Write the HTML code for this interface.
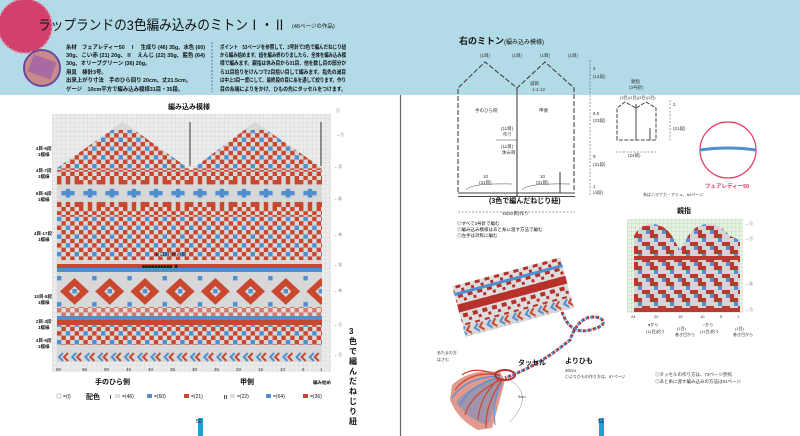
<!DOCTYPE html>
<html><head><meta charset="utf-8"><style>
html,body{margin:0;padding:0;background:#fff;}
svg{display:block;font-family:"Liberation Sans","Noto Sans CJK JP",sans-serif;}
</style></head><body>
<svg width="800" height="436" viewBox="0 0 800 436" xmlns="http://www.w3.org/2000/svg">
<defs>
<pattern id="grid" width="4.4" height="4.4" patternUnits="userSpaceOnUse">
<rect width="4.4" height="4.4" fill="#ececec"/><path d="M4.4 0V4.4H0" fill="none" stroke="#c8c8c8" stroke-width="0.5"/></pattern>
<pattern id="ggrid" width="4" height="4" patternUnits="userSpaceOnUse">
<rect width="4" height="4" fill="#e6f2e2"/><path d="M4 0V4H0" fill="none" stroke="#9fd19a" stroke-width="0.5"/></pattern>
<pattern id="pA" width="17.6" height="17.6" patternUnits="userSpaceOnUse" x="57" y="120">
<rect width="17.6" height="17.6" fill="#d8d8d8"/>
<rect x="0" y="0" width="4.4" height="4.4" fill="#c9472f"/><rect x="8.8" y="0" width="4.4" height="4.4" fill="#4f8fd0"/>
<rect x="4.4" y="4.4" width="4.4" height="4.4" fill="#c9472f"/><rect x="13.2" y="4.4" width="4.4" height="4.4" fill="#c9472f"/>
<rect x="0" y="8.8" width="4.4" height="4.4" fill="#4f8fd0"/><rect x="8.8" y="8.8" width="4.4" height="4.4" fill="#c9472f"/>
<rect x="4.4" y="13.2" width="4.4" height="4.4" fill="#c9472f"/><rect x="13.2" y="13.2" width="4.4" height="4.4" fill="#c9472f"/>
</pattern>
<pattern id="pD" width="22" height="26.4" patternUnits="userSpaceOnUse" x="57" y="180">
<rect width="22" height="26.4" fill="#d8d8d8"/>
<rect x="8.8" y="8.8" width="4.4" height="8.8" fill="#4f8fd0"/><rect x="4.4" y="11" width="13.2" height="4.4" fill="#4f8fd0"/>
<rect x="0" y="0" width="4.4" height="4.4" fill="#c9472f"/><rect x="17.6" y="22" width="4.4" height="4.4" fill="#c9472f"/>
<rect x="0" y="22" width="4.4" height="4.4" fill="#c9472f"/><rect x="17.6" y="0" width="4.4" height="4.4" fill="#c9472f"/>
<rect x="8.8" y="0" width="4.4" height="4.4" fill="#c9472f"/><rect x="8.8" y="22" width="4.4" height="4.4" fill="#c9472f"/>
</pattern>
<pattern id="pC" width="8.8" height="8.8" patternUnits="userSpaceOnUse" x="57" y="0">
<rect width="8.8" height="8.8" fill="#d8d8d8"/><rect width="4.4" height="4.4" fill="#c9472f"/><rect x="4.4" y="4.4" width="4.4" height="4.4" fill="#c9472f"/></pattern>
<pattern id="pR" width="35.2" height="30.8" patternUnits="userSpaceOnUse" x="57" y="276">
<rect width="35.2" height="30.8" fill="#d8d8d8"/>
<path d="M17.6 2 L32 15.4 L17.6 28.8 L3 15.4Z" fill="#c9472f"/>
<path d="M17.6 10 L23 15.4 L17.6 21 L12 15.4Z" fill="#d8d8d8"/>
<rect x="15.4" y="13" width="4.4" height="4.4" fill="#4f8fd0"/><rect x="0" y="0" width="4.4" height="4.4" fill="#4f8fd0"/><rect x="0" y="26" width="4.4" height="4.4" fill="#4f8fd0"/>
</pattern>
<pattern id="pV" width="13.2" height="10" patternUnits="userSpaceOnUse" x="57" y="352">
<rect width="13.2" height="10" fill="#d8d8d8"/><path d="M6 1 L2 5 L6 9" stroke="#4f8fd0" stroke-width="2" fill="none"/><path d="M11 1 L7 5 L11 9" stroke="#c9472f" stroke-width="2" fill="none"/></pattern>
<pattern id="pT" width="16" height="16" patternUnits="userSpaceOnUse" x="634" y="250">
<rect width="16" height="16" fill="#d4d4d4"/><rect width="8" height="4" fill="#b83a2e"/><rect x="8" y="8" width="8" height="4" fill="#b83a2e"/><rect x="4" y="4" width="4" height="4" fill="#4f8fd0"/><rect x="12" y="12" width="4" height="4" fill="#4f8fd0"/><rect x="0" y="12" width="4" height="4" fill="#b83a2e"/></pattern>
<pattern id="pB" width="10" height="10" patternUnits="userSpaceOnUse">
<rect width="10" height="10" fill="#ddd"/><rect width="5" height="4" fill="#b8302a"/><rect x="5" y="5" width="3" height="3" fill="#b8302a"/></pattern>
</defs>

<!-- header -->
<rect x="0" y="0" width="800" height="95" fill="#b2dbe7"/>
<circle cx="25" cy="26" r="27" fill="#d2406e"/>
<circle cx="25" cy="26" r="27" fill="none" stroke="#e58aa5" stroke-width="2" stroke-dasharray="2 3"/>
<circle cx="42" cy="68" r="18" fill="#c98a8a" stroke="#6a4aa0" stroke-width="2"/>
<rect x="30" y="58" width="24" height="18" fill="#a86aa0" transform="rotate(20 42 67)"/>
<text x="38" y="30" font-size="14" fill="#111" textLength="248" lengthAdjust="spacingAndGlyphs">ラップランドの3色編み込みのミトンⅠ・Ⅱ</text>
<text x="292" y="28" font-size="5.5" fill="#111">(46ページの作品)</text>
<g font-size="5.4" fill="#111" font-weight="bold">
<text x="66" y="49" textLength="139" lengthAdjust="spacingAndGlyphs">糸材　フェアレディー50　Ⅰ　生成り (46) 35g、水色 (60)</text>
<text x="66" y="57" textLength="139" lengthAdjust="spacingAndGlyphs">30g、こい赤 (21) 20g、Ⅱ　えんじ (22) 35g、藍色 (64)</text>
<text x="66" y="65">30g、オリーブグリーン (36) 20g。</text>
<text x="66" y="74">用具　棒針3号。</text>
<text x="66" y="82">出来上がり寸法　手のひら回り 20cm、丈21.5cm。</text>
<text x="66" y="91">ゲージ　10cm平方で編み込み模様31目・35段。</text>
<text x="220" y="49" textLength="126" lengthAdjust="spacingAndGlyphs">ポイント　53ページを参照して、3号針で3色で編んだねじり紐</text>
<text x="220" y="57" textLength="126" lengthAdjust="spacingAndGlyphs">から編み始めます。紐を編み終わりましたら、全体を編み込み模</text>
<text x="220" y="65" textLength="126" lengthAdjust="spacingAndGlyphs">様で編みます。親指は休み目から01目、他を数し目の部分か</text>
<text x="220" y="74" textLength="126" lengthAdjust="spacingAndGlyphs">ら11目拾りをけんつで2目拾い目して編みます。指先の減目</text>
<text x="220" y="82" textLength="126" lengthAdjust="spacingAndGlyphs">は中上3目一度にして、最終段の目に糸を通して絞ります。作り</text>
<text x="220" y="91" textLength="126" lengthAdjust="spacingAndGlyphs">目の糸端によりをかけ、ひもの先にタッセルをつけます。</text>
</g>
<line x1="212" y1="42" x2="212" y2="92" stroke="#333" stroke-width="0.6" stroke-dasharray="2 1.5"/>

<!-- left chart -->
<text x="168" y="109" font-size="7" font-weight="bold" fill="#111">編み込み模様</text>
<rect x="52" y="114" width="279" height="258" fill="url(#grid)"/>
<path d="M57 170 L57 168 L123 122 L188 168 L191 170 L255 122 L322 168 L322 170Z" fill="url(#pA)"/>
<path d="M123 122 L135 130 L111 130Z" fill="#d8d8d8"/>
<path d="M255 122 L267 130 L243 130Z" fill="#d8d8d8"/>
<rect x="57" y="170" width="265" height="10" fill="url(#pC)"/>
<rect x="57" y="180" width="265" height="27" fill="url(#pD)"/>
<rect x="57" y="207" width="265" height="8" fill="url(#pC)"/>
<rect x="57" y="215" width="265" height="45" fill="url(#pA)"/>
<rect x="57" y="260" width="265" height="4" fill="#d8d8d8"/>
<rect x="57" y="264" width="265" height="4" fill="#c9472f"/>
<rect x="57" y="268" width="265" height="4" fill="#4f8fd0"/>
<rect x="57" y="272" width="265" height="4" fill="#d8d8d8"/>
<rect x="57" y="276" width="265" height="31" fill="url(#pR)"/>
<rect x="57" y="307" width="265" height="9" fill="url(#pC)" opacity="0.7"/>
<rect x="57" y="316" width="265" height="4" fill="#4f8fd0"/>
<rect x="57" y="320" width="265" height="5" fill="#c9472f"/>
<rect x="57" y="325" width="265" height="20" fill="url(#pA)"/>
<rect x="57" y="345" width="265" height="7" fill="#d8d8d8"/>
<rect x="57" y="352" width="265" height="10" fill="url(#pV)"/>
<rect x="189" y="122" width="2" height="44" fill="#333" opacity="0.5"/>
<rect x="320" y="122" width="2" height="44" fill="#333" opacity="0.5"/>
<text x="155" y="256" font-size="5" fill="#111">●(11目)休み目</text>
<text x="142" y="268" font-size="5" fill="#111">■■■■■■■■■■ ★</text>
<g font-size="4.5" fill="#111" font-weight="bold">
<text x="36" y="150">4目-5段</text><text x="38" y="156">1模様</text>
<text x="36" y="172">4目-7段</text><text x="38" y="178">1模様</text>
<text x="36" y="195">6目-6段</text><text x="38" y="201">1模様</text>
<text x="34" y="235">4目-17段</text><text x="38" y="241">1模様</text>
<text x="34" y="298">10目-8段</text><text x="38" y="304">1模様</text>
<text x="36" y="323">2目-3段</text><text x="38" y="329">1模様</text>
<text x="36" y="342">4目-5段</text><text x="38" y="348">1模様</text>
</g>
<g font-size="4.5" fill="#333">
<text x="56" y="371">60</text><text x="82" y="371">55</text><text x="104" y="371">50</text><text x="126" y="371">45</text><text x="148" y="371">40</text><text x="170" y="371">35</text><text x="192" y="371">30</text><text x="214" y="371">25</text><text x="236" y="371">20</text><text x="258" y="371">15</text><text x="280" y="371">10</text><text x="302" y="371">5</text><text x="320" y="371">1</text>
</g>
<text x="95" y="384" font-size="7" font-weight="bold" fill="#111">手のひら側</text>
<text x="240" y="384" font-size="7" font-weight="bold" fill="#111">甲側</text>
<text x="313" y="384" font-size="4.5" font-weight="bold" fill="#111">編み始め</text>
<g font-size="5" fill="#111">
<rect x="57" y="394" width="4" height="4" fill="#fff" stroke="#999" stroke-width="0.5"/><text x="63" y="398">=(I)</text>
<text x="86" y="399" font-size="7" font-weight="bold">配色</text>
<text x="108" y="399" font-weight="bold">Ⅰ</text><rect x="115" y="394" width="5" height="4" fill="#ddd"/><text x="122" y="398">=(46)</text>
<rect x="147" y="394" width="5" height="4" fill="#4f8fd0"/><text x="154" y="398">=(60)</text>
<rect x="184" y="394" width="5" height="4" fill="#c9472f"/><text x="191" y="398">=(21)</text>
<text x="223" y="399" font-weight="bold">Ⅱ</text><rect x="230" y="394" width="5" height="4" fill="#ddd"/><text x="237" y="398">=(22)</text>
<rect x="266" y="394" width="5" height="4" fill="#4f8fd0"/><text x="273" y="398">=(64)</text>
<rect x="303" y="394" width="5" height="4" fill="#c9472f"/><text x="310" y="398">=(36)</text>
</g>
<g font-size="8" font-weight="bold" fill="#111">
<text x="349" y="334">3</text><text x="349" y="344">色</text><text x="349" y="354">で</text><text x="349" y="364">編</text><text x="349" y="374">ん</text><text x="349" y="384">だ</text><text x="349" y="394">ね</text><text x="349" y="404">じ</text><text x="349" y="414">り</text><text x="349" y="424">紐</text>
</g>
<g font-size="4" fill="#333"><text x="336" y="112">①</text><text x="336" y="136">←①</text><text x="334" y="168">←②</text><text x="334" y="200">←⑤</text><text x="334" y="236">←④</text><text x="334" y="266">←③</text><text x="334" y="292">←④</text><text x="334" y="326">←①</text><text x="334" y="356">←①</text></g>
<rect x="198" y="418" width="5" height="18" fill="#1aa3d6"/><text x="196" y="423" font-size="5" fill="#111">50</text>

<!-- gutter -->
<line x1="400.5" y1="95" x2="400.5" y2="436" stroke="#666" stroke-width="1.2"/>

<!-- right page -->
<text x="459" y="44" font-size="9" font-weight="bold" fill="#111">右のミトン</text>
<text x="504" y="44" font-size="6" fill="#111">(編み込み模様)</text>
<g stroke="#444" stroke-width="1.1" fill="none">
<path d="M458 192 V88 L485 62 L517 88 L545 62 L574 88 V192" stroke-dasharray="5 2"/>
<line x1="517" y1="88" x2="517" y2="196"/>
<line x1="458" y1="193" x2="575" y2="193"/><line x1="458" y1="196.5" x2="575" y2="196.5"/>
<line x1="560" y1="172" x2="560" y2="193"/>
<line x1="496" y1="140" x2="517" y2="140" stroke-width="0.6"/>
<path d="M466 190 Q470 183 512 184" stroke-width="0.5"/><path d="M522 190 Q526 183 570 184" stroke-width="0.5"/>
<line x1="458" y1="212" x2="575" y2="212" stroke-width="0.5" stroke-dasharray="2 1.5"/>
<line x1="590" y1="60" x2="590" y2="196" stroke-width="0.5" stroke-dasharray="2 1.5"/>
</g>
<g font-size="4.5" fill="#333">
<text x="480" y="57">(1目)</text><text x="512" y="57">(1目)</text><text x="540" y="57">(1目)</text><text x="568" y="57">(1目)</text>
<text x="530" y="85">減目</text><text x="532" y="91">1-1-12</text>
<text x="475" y="112">手のひら側</text><text x="539" y="112">甲側</text>
<text x="501" y="130">(11目)</text><text x="503" y="136">作り</text><text x="501" y="148">(11目)</text><text x="502" y="154">休み目</text>
<text x="483" y="178">10</text><text x="479" y="184">(31目)</text><text x="540" y="178">10</text><text x="536" y="184">(31目)</text>
<text x="502" y="215">16(62目)作り</text>
<text x="593" y="70">4</text><text x="593" y="78">(14段)</text><text x="593" y="115">6.5</text><text x="593" y="122">(23段)</text><text x="593" y="158">9</text><text x="593" y="166">(31段)</text><text x="593" y="188">1</text><text x="593" y="194">(4段)</text>
</g>
<text x="489" y="203" font-size="7" font-weight="bold" fill="#111">(3色で編んだねじり紐)</text>
<g font-size="4.5" fill="#111"><text x="457" y="225">◎すべて3号針で編む</text><text x="457" y="231">◎編み込み模様はあと糸に渡す方法で編む</text><text x="457" y="237">◎左手は対称に編む</text></g>

<!-- small thumb diagram -->
<text x="631" y="83" font-size="4.5" fill="#333">親指</text><text x="629" y="89" font-size="4.5" fill="#333">(3号針)</text>
<g stroke="#444" stroke-width="1" fill="none">
<path d="M617 140 V108 L625 102 L636 108 L646 102 L656 108 V140 Z" stroke-dasharray="4 1.5"/>
<line x1="636" y1="104" x2="636" y2="140"/><line x1="650" y1="128" x2="650" y2="140"/>
<line x1="616" y1="152" x2="658" y2="152" stroke-width="0.5" stroke-dasharray="2 1.5"/>
<line x1="670" y1="100" x2="670" y2="142" stroke-width="0.5" stroke-dasharray="2 1.5"/>
</g>
<text x="620" y="99" font-size="4" fill="#333">(3目)(1目)(3目)(1目)</text>
<text x="628" y="157" font-size="4.5" fill="#333">(24目)</text><text x="673" y="106" font-size="4.5" fill="#333">2</text><text x="673" y="130" font-size="4.5" fill="#333">(21段)</text>

<!-- yarn circle -->
<circle cx="728" cy="150" r="28" fill="#fff" stroke="#e2355f" stroke-width="1.2"/>
<path d="M700 150 Q728 146 756 150" stroke="#4f8fd0" stroke-width="3" fill="none"/>
<text x="705" y="188" font-size="5.5" font-weight="bold" fill="#e2355f">フェアレディー50</text>
<text x="643" y="196" font-size="4" fill="#333">糸はハマナカ・アミュ、64ページ</text>

<!-- thumb chart -->
<text x="677" y="213" font-size="7" font-weight="bold" fill="#111">親指</text>
<rect x="627" y="219" width="116" height="94" fill="url(#ggrid)"/>
<path d="M634 250 V236 Q640 224 652 224 Q664 224 672 236 L680 250 L688 236 Q696 224 708 224 Q720 224 730 236 L740 240 V250Z" fill="url(#pT)"/>
<rect x="634" y="250" width="106" height="60" fill="url(#pT)"/>
<rect x="634" y="256" width="106" height="4" fill="#b83a2e"/>
<rect x="634" y="308" width="106" height="4" fill="#b83a2e"/>
<g font-size="4" fill="#333"><text x="631" y="318">24</text><text x="654" y="318">20</text><text x="678" y="318">15</text><text x="700" y="318">10</text><text x="720" y="318">5</text><text x="737" y="318">1</text>
<text x="648" y="326">●から</text><text x="646" y="333">(11目)拾う</text><text x="677" y="330">(1目)</text><text x="675" y="336">巻き目から</text>
<text x="703" y="326">○から</text><text x="700" y="333">(11目)拾う</text><text x="735" y="330">(1目)</text><text x="733" y="336">巻き目から</text>
<text x="745" y="225">←①</text><text x="745" y="240">←①</text><text x="745" y="285">←⑤</text><text x="745" y="311">←①</text></g>

<!-- band -->
<g transform="rotate(-15 513 297)">
<rect x="457" y="271" width="112" height="52" fill="url(#pB)"/>
<rect x="457" y="278" width="112" height="3" fill="#4f8fd0"/>
<rect x="457" y="290" width="112" height="8" fill="#b8302a"/>
<rect x="457" y="312" width="112" height="11" fill="url(#pV)"/>
</g>
<path d="M562 312 Q570 335 590 330 Q610 325 600 318 Q580 312 570 340 Q540 365 505 378" stroke="#b8302a" stroke-width="3" fill="none" stroke-dasharray="3 2"/>
<path d="M562 312 Q570 335 590 330 Q610 325 600 318 Q580 312 570 340 Q540 365 505 378" stroke="#4f8fd0" stroke-width="3" fill="none" stroke-dasharray="2 3" stroke-dashoffset="3"/>
<!-- tassel -->
<path d="M500 372 Q470 368 452 385 L450 400 Q458 420 478 430 L492 428 Q500 400 505 380Z" fill="#c9472f" opacity="0.55"/>
<path d="M498 378 Q470 385 456 402 Q468 420 488 425 Q497 400 503 382Z" fill="#4f8fd0" opacity="0.45"/>
<g stroke-width="1.2" fill="none">
<path d="M500 375 Q470 370 455 390" stroke="#c9472f"/><path d="M500 377 Q470 385 460 405" stroke="#4f8fd0"/>
<path d="M500 378 Q480 395 478 420" stroke="#c9472f"/><path d="M502 378 Q492 400 495 425" stroke="#7a8fd0"/>
<path d="M498 376 Q465 378 452 398" stroke="#4f8fd0"/><path d="M500 380 Q470 395 465 415" stroke="#c9472f"/>
<path d="M500 376 Q475 365 462 375" stroke="#c9472f"/><path d="M502 380 Q485 405 486 428" stroke="#c9472f"/>
</g>
<ellipse cx="505" cy="375" rx="10" ry="5" fill="none" stroke="#b8302a" stroke-width="2"/>
<path d="M510 380 Q535 395 510 422" stroke="#888" stroke-width="0.5" fill="none"/>
<text x="518" y="398" font-size="4" fill="#333">5cm</text>
<text x="518" y="365" font-size="7" font-weight="bold" fill="#111">タッセル</text>
<text x="565" y="363" font-size="7" font-weight="bold" fill="#111">よりひも</text>
<text x="565" y="372" font-size="4.5" fill="#333">20cm</text>
<text x="565" y="378" font-size="4" fill="#333">◎よりひもの作り方は、87ページ</text>
<text x="437" y="354" font-size="4" fill="#333">あたまの方</text><text x="437" y="361" font-size="4" fill="#333">はさむ</text>
<text x="655" y="376" font-size="4.5" fill="#333">◎タッセルの作り方は、73ページ参照</text>
<text x="655" y="383" font-size="4.5" fill="#333">◎あと糸に渡す編み込みの方法は81ページ</text>
<rect x="599" y="418" width="5" height="18" fill="#1aa3d6"/><text x="598" y="423" font-size="5" fill="#111">51</text>
</svg>
</body></html>
